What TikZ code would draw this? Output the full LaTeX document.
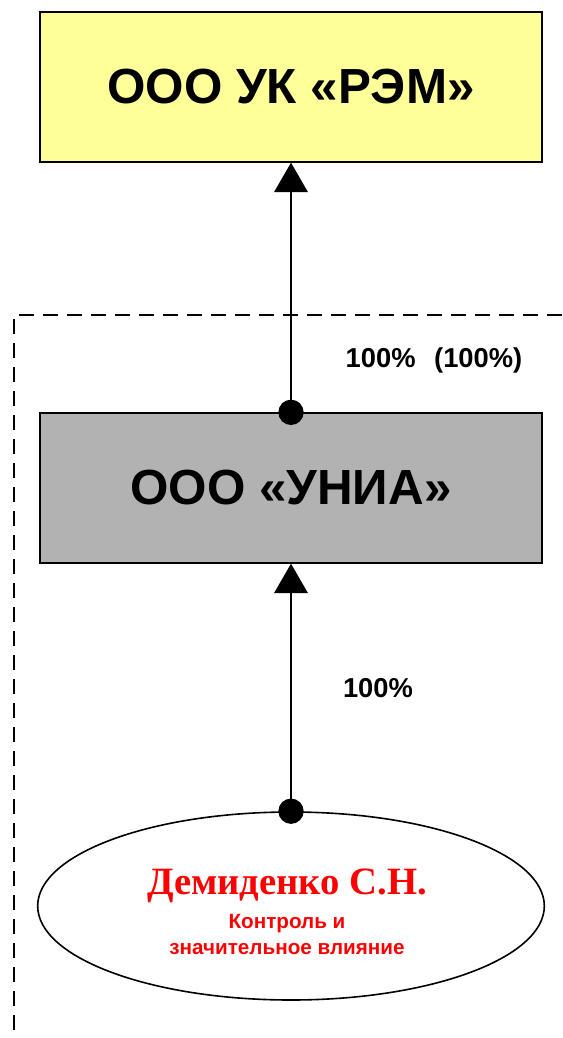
\documentclass[tikz,border=0pt]{standalone}
\usepackage{fontspec}
\setmainfont{Liberation Sans}
\newfontfamily\namefont{Liberation Serif}
\usetikzlibrary{arrows.meta,shapes.geometric}

\definecolor{remyellow}{HTML}{FFFF99}
\definecolor{uniagray}{HTML}{B2B2B2}

\tikzset{
    firmbox/.style={draw, line width=1.5pt, minimum width=377pt, minimum height=112pt,
        inner sep=0pt, font=\fontsize{37}{40}\selectfont\bfseries},
    share/.style={font=\fontsize{20.5}{22}\selectfont\bfseries},
    link/.style={line width=1.5pt, -{Triangle[width=25pt,length=22pt]}}
}

\begin{document}
\begin{tikzpicture}[x=0.75pt,y=-0.75pt]
\useasboundingbox (0,0) rectangle (562,1038);

% group border
\draw[line width=1.2pt, dash pattern=on 11pt off 7pt] (562,315) -- (14,315) -- (14,1038);

\node[firmbox, fill=remyellow] (rem) at (291,87) {ООО УК «РЭМ»};
\node[firmbox, fill=uniagray] (unia) at (291,488) {ООО «УНИА»};
\node[ellipse, draw, line width=1.2pt, minimum width=380pt, minimum height=141pt,
    inner sep=0pt] (owner) at (291,906) {};
\node[align=center, text=red, font=\fontsize{15.5}{19}\selectfont\bfseries, anchor=north]
    (ownertext) at (287,864)
    {{\namefont\fontsize{29}{32}\selectfont Демиденко С.Н.}\\[7pt]
     Контроль и\\
     значительное влияние};

\draw[link] (unia.north) -- (rem.south);
\fill (unia.north) circle [radius=9.5pt];
\draw[link] (owner.north) -- (unia.south);
\fill (owner.north) circle [radius=9.5pt];

\node[share] (shareunia) at (434,360) {100\%\hspace{14pt}(100\%)};
\node[share] (shareowner) at (378,688) {100\%};
\end{tikzpicture}
\end{document}
